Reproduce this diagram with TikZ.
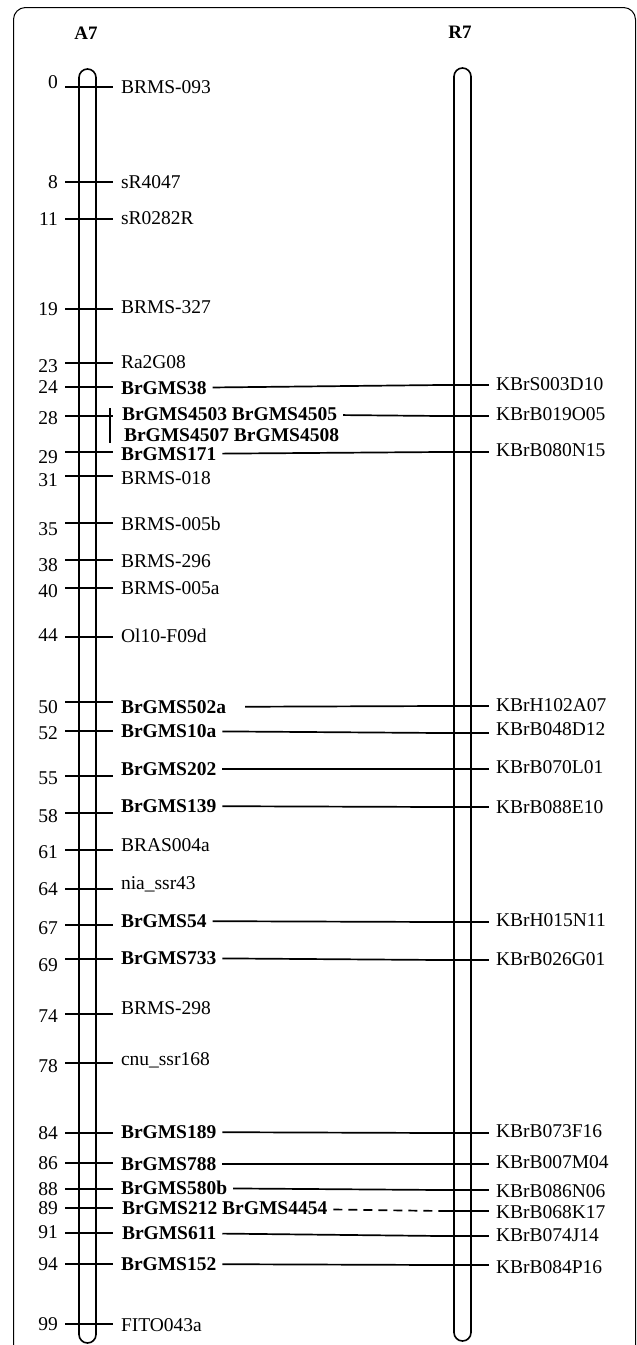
\documentclass[tikz,border=0pt]{standalone}
\usepackage{fontspec}
\setmainfont{Liberation Serif}
\newcommand\mkfont{\fontsize{19.5pt}{22pt}\selectfont}
\tikzset{
  num/.style={anchor=east, inner sep=0pt, text height=13pt, text depth=0pt, font=\mkfont},
  mk/.style={anchor=west, inner sep=0pt, outer xsep=6pt, outer ysep=0pt, text height=13pt, text depth=0pt, font=\mkfont},
  mkb/.style={mk, font=\mkfont\bfseries},
  title/.style={inner sep=0pt, font=\fontsize{19pt}{21pt}\selectfont\bfseries},
  tk/.style={line width=2pt},
  chrom/.style={draw, line width=1.6pt, rounded corners=8.5pt, minimum width=17pt, inner sep=0pt},
  link/.style={line width=1.7pt},
  dlink/.style={line width=1.7pt, dash pattern=on 9pt off 6pt},
}
\begin{document}
\begin{tikzpicture}[x=1pt,y=-1pt]
\useasboundingbox (0,0) rectangle (637,1345);
\begin{scope}
\clip (0,0) rectangle (637,1345);
\draw[line width=1pt, rounded corners=12pt] (13.5,1420) -- (13.5,7.5) -- (635.5,7.5) -- (635.5,1420);
\end{scope}
% titles
\node[title] (tA) at (86,33) {A7};
\node[title] (tR) at (460,32) {R7};
% chromosomes
\node[chrom, minimum height=1274pt] (A7) at (87.5,706) {};
\node[chrom, minimum height=1273pt] (R7) at (462.5,704.5) {};
% ---------- A7 markers ----------
% ticks
\foreach \t in {87,182,219,309,363,387,416,452,476,523,560,588,637,702,731,776,813,850,889,925,959,1014,1063,1133,1163,1189,1208,1233,1264,1324}
  \draw[tk] (65,\t) -- (113,\t);
% numbers
\node[num] (n0)  at (58,82)   {0};
\node[num] (n8)  at (58,182)  {8};
\node[num] (n11) at (58,219)  {11};
\node[num] (n19) at (58,309)  {19};
\node[num] (n23) at (58,366)  {23};
\node[num] (n24) at (58,387)  {24};
\node[num] (n28) at (58,418)  {28};
\node[num] (n29) at (58,457)  {29};
\node[num] (n31) at (58,480)  {31};
\node[num] (n35) at (58,529)  {35};
\node[num] (n38) at (58,565)  {38};
\node[num] (n40) at (58,591)  {40};
\node[num] (n44) at (58,635)  {44};
\node[num] (n50) at (58,707)  {50};
\node[num] (n52) at (58,733)  {52};
\node[num] (n55) at (58,778)  {55};
\node[num] (n58) at (58,816)  {58};
\node[num] (n61) at (58,852)  {61};
\node[num] (n64) at (58,889)  {64};
\node[num] (n67) at (58,928)  {67};
\node[num] (n69) at (58,965)  {69};
\node[num] (n74) at (58,1016) {74};
\node[num] (n78) at (58,1066) {78};
\node[num] (n84) at (58,1133) {84};
\node[num] (n86) at (58,1163) {86};
\node[num] (n88) at (58,1189) {88};
\node[num] (n89) at (58,1208) {89};
\node[num] (n91) at (58,1232) {91};
\node[num] (n94) at (58,1264) {94};
\node[num] (n99) at (58,1324) {99};
% labels
\node[mk]  (l0)  at (115,87)   {BRMS-093};
\node[mk]  (l8)  at (115,182)  {sR4047};
\node[mk]  (l11) at (115,218)  {sR0282R};
\node[mk]  (l19) at (115,307)  {BRMS-327};
\node[mk]  (l23) at (115,362)  {Ra2G08};
\node[mkb] (l24) at (115,388)  {BrGMS38};
\node[mkb] (l28) at (116,414)  {BrGMS4503 BrGMS4505};
\node[mkb] (l28b) at (118,435) {BrGMS4507 BrGMS4508};
\node[mkb] (l29) at (115,454)  {BrGMS171};
\node[mk]  (l31) at (115,478)  {BRMS-018};
\node[mk]  (l35) at (115,524)  {BRMS-005b};
\node[mk]  (l38) at (115,561)  {BRMS-296};
\node[mk]  (l40) at (115,588)  {BRMS-005a};
\node[mk]  (l44) at (115,636)  {Ol10-F09d};
\node[mkb] (l50) at (115,707)  {BrGMS502a};
\node[mkb] (l52) at (115,731)  {BrGMS10a};
\node[mkb] (l55) at (115,769)  {BrGMS202};
\node[mkb] (l58) at (115,806)  {BrGMS139};
\node[mk]  (l61) at (115,845)  {BRAS004a};
\node[mk]  (l64) at (115,883)  {nia\_ssr43};
\node[mkb] (l67) at (115,921)  {BrGMS54};
\node[mkb] (l69) at (115,958)  {BrGMS733};
\node[mk]  (l74) at (115,1008) {BRMS-298};
\node[mk]  (l78) at (115,1059) {cnu\_ssr168};
\node[mkb] (l84) at (115,1132) {BrGMS189};
\node[mkb] (l86) at (115,1164) {BrGMS788};
\node[mkb] (l88) at (115,1188) {BrGMS580b};
\node[mkb] (l89) at (116,1208) {BrGMS212 BrGMS4454};
\node[mkb] (l91) at (116,1233) {BrGMS611};
\node[mkb] (l94) at (115,1264) {BrGMS152};
\node[mk]  (l99) at (115,1325) {FITO043a};
% bracket for the 28 group
\draw[link] (110,408) -- (110,443);
% ---------- R7 markers ----------
\foreach \t in {385,416,452,706,733,769,807,922,960,1133,1164,1190,1211,1236,1265}
  \draw[tk] (441,\t) -- (489,\t);
\coordinate (r1)  at (441,385);
\coordinate (r2)  at (441,416);
\coordinate (r3)  at (441,452);
\coordinate (r4)  at (441,706);
\coordinate (r5)  at (441,733);
\coordinate (r6)  at (441,769);
\coordinate (r7)  at (441,807);
\coordinate (r8)  at (441,922);
\coordinate (r9)  at (441,960);
\coordinate (r10) at (441,1133);
\coordinate (r11) at (441,1164);
\coordinate (r12) at (441,1190);
\coordinate (r13) at (441,1211);
\coordinate (r14) at (441,1236);
\coordinate (r15) at (441,1265);
\node[mk] (k1)  at (490,384)  {KBrS003D10};
\node[mk] (k2)  at (490,414)  {KBrB019O05};
\node[mk] (k3)  at (490,450)  {KBrB080N15};
\node[mk] (k4)  at (490,705)  {KBrH102A07};
\node[mk] (k5)  at (490,729)  {KBrB048D12};
\node[mk] (k6)  at (490,767)  {KBrB070L01};
\node[mk] (k7)  at (490,807)  {KBrB088E10};
\node[mk] (k8)  at (490,920)  {KBrH015N11};
\node[mk] (k9)  at (490,959)  {KBrB026G01};
\node[mk] (k10) at (490,1131) {KBrB073F16};
\node[mk] (k11) at (490,1162) {KBrB007M04};
\node[mk] (k12) at (490,1191) {KBrB086N06};
\node[mk] (k13) at (490,1212) {KBrB068K17};
\node[mk] (k14) at (490,1235) {KBrB074J14};
\node[mk] (k15) at (490,1267) {KBrB084P16};
% ---------- connectors ----------
\draw[link] (l24) -- (r1);
\draw[link] (l28) -- (r2);
\draw[link] (l29) -- (r3);
\draw[link, shorten <=13pt] (l50) -- (r4);
\draw[link] (l52) -- (r5);
\draw[link] (l55) -- (r6);
\draw[link] (l58) -- (r7);
\draw[link] (l67) -- (r8);
\draw[link] (l69) -- (r9);
\draw[link] (l84) -- (r10);
\draw[link] (l86) -- (r11);
\draw[link] (l88) -- (r12);
\draw[dlink] (l89) -- (r13);
\draw[link] (l91) -- (r14);
\draw[link] (l94) -- (r15);
\end{tikzpicture}
\end{document}
